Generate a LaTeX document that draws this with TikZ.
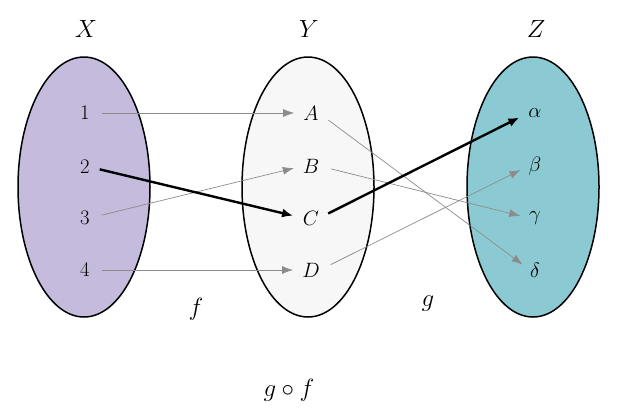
\documentclass[tikz,border=0pt]{standalone}
\usetikzlibrary{arrows.meta}
\definecolor{setX}{RGB}{196,187,221}
\definecolor{setY}{RGB}{247,247,247}
\definecolor{setZ}{RGB}{140,202,211}
\definecolor{thin}{RGB}{140,140,140}
\begin{document}
\begin{tikzpicture}[x=1pt,y=-1pt,
  setell/.style={draw=black,line width=1.5pt},
  elem/.style={inner sep=0pt,font=\huge},
  setlab/.style={inner sep=0pt,font=\Huge},
  maplab/.style={inner sep=0pt,font=\Huge},
  thinarr/.style={draw=thin,line width=0.7pt,-{Latex[length=11pt,width=8pt]},shorten <=12pt,shorten >=9pt},
  thickarr/.style={draw=black,line width=2.4pt,-{Latex[length=11pt,width=9pt]},shorten <=10pt,shorten >=10pt}]
\useasboundingbox (0,0) rectangle (617,418);
\fill[white] (0,0) rectangle (617,418);
\draw[setell,fill=setX] (84,187) ellipse [x radius=66, y radius=130];
\draw[setell,fill=setY] (308,187) ellipse [x radius=66, y radius=130];
\draw[setell,fill=setZ] (533,187) ellipse [x radius=66, y radius=130];
\node[setlab] (X) at (86,29) {$X$};
\node[setlab] (Y) at (309,29) {$Y$};
\node[setlab] (Z) at (536,29) {$Z$};
\node[elem] (n1) at (85,113) {$1$};
\node[elem] (n2) at (85,167) {$2$};
\node[elem] (n3) at (85,218) {$3$};
\node[elem] (n4) at (85,270) {$4$};
\node[elem] (A) at (311,113) {$A$};
\node[elem] (B) at (311,166) {$B$};
\node[elem] (C) at (311,218) {$C$};
\node[elem] (D) at (311,270) {$D$};
\node[elem] (al) at (535,113) {$\alpha$};
\node[elem] (be) at (535,166) {$\beta$};
\node[elem] (ga) at (535,218) {$\gamma$};
\node[elem] (de) at (535,270) {$\delta$};
\node[maplab] (f) at (196,309) {$f$};
\node[maplab] (g) at (428,304) {$g$};
\node[maplab] (gf) at (289,390) {$g\circ f$};
\draw[thinarr] (n1.east) -- (A.west);
\draw[thinarr] (n3.east) -- (B.west);
\draw[thinarr] (n4.east) -- (D.west);
\draw[thickarr] (n2.east) -- (C.west);
\draw[thinarr] (A.east) -- (de.west);
\draw[thinarr] (B.east) -- (ga.west);
\draw[thinarr] (D.east) -- (be.west);
\draw[thickarr] (C.east) -- (al.west);
\end{tikzpicture}
\end{document}
